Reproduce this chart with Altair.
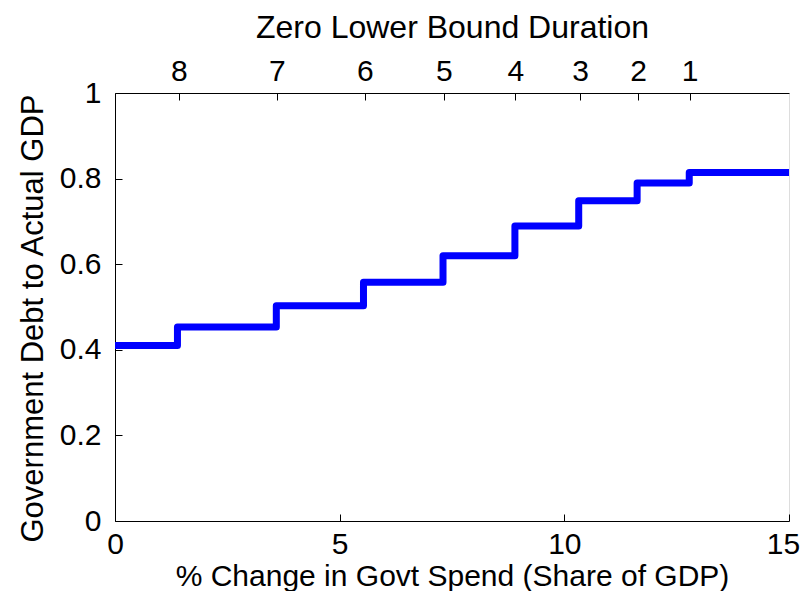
import altair as alt
import pandas as pd

# Step series: % change in govt spend (share of GDP) vs government debt / actual GDP
spend_change = [0.0, 1.39, 3.59, 5.53, 7.30, 8.90, 10.32, 11.62, 12.78, 15.0]
debt_ratio = [0.410, 0.453, 0.503, 0.558, 0.620, 0.689, 0.748, 0.790, 0.814, 0.814]

# Top axis: zero lower bound duration
zlb_positions = [1.42, 3.60, 5.56, 7.32, 8.91, 10.35, 11.64, 12.79]
zlb_labels = ["8", "7", "6", "5", "4", "3", "2", "1"]

x_ticks = [0, 5, 10, 15]
y_ticks = [0, 0.2, 0.4, 0.6, 0.8, 1.0]

df = pd.DataFrame({"x": spend_change, "y": debt_ratio})

FONT = "Liberation Sans"
FS = 30
W, H = 674, 428
TICK = 7

xscale = alt.Scale(domain=[0, 15], nice=False, zero=False)
yscale = alt.Scale(domain=[0, 1], nice=False, zero=False)

label_expr = "[" + ",".join("'%s'" % s for s in zlb_labels) + "][indexof([" + \
    ",".join(repr(v) for v in zlb_positions) + "], datum.value)]"

common_axis = dict(labelFont=FONT, titleFont=FONT, labelFontSize=FS,
                   labelColor="black", titleColor="black", tickColor="black",
                   domainColor="black", grid=False, labelFlush=False,
                   labelOverlap=False, labelBound=False, titleFontWeight="normal")

# Layer 1: the line, bottom axis ticks+labels, left axis ticks+labels (offset inward)
line = alt.Chart(df).mark_line(
    interpolate="step-after", color="#0000FF", strokeWidth=7,
    strokeCap="butt", strokeJoin="round"
).encode(
    x=alt.X("x:Q", scale=xscale, axis=alt.Axis(
        orient="bottom", values=x_ticks, format="d", domain=False,
        ticks=True, tickSize=TICK, offset=-TICK, labelPadding=1 + TICK,
        labelOffset={"condition": {"test": "datum.value === 15", "value": -6}, "value": 0},
        title="% Change in Govt Spend (Share of GDP)",
        titleBaseline="alphabetic", titleY=71,
        titleFontSize=30, **common_axis)),
    y=alt.Y("y:Q", scale=yscale, axis=alt.Axis(
        orient="left", values=y_ticks, format="~g", domain=False,
        ticks=True, tickSize=TICK, offset=-TICK, labelPadding=7 + TICK,
        title="Government Debt to Actual GDP", titlePadding=10, titleY=H / 2 + 11,
        titleFontSize=31, **common_axis)),
)

# Layer 2: bottom and left domain lines
frame_lb = alt.Chart(df).mark_point(opacity=0).encode(
    x=alt.X("x:Q", scale=xscale, axis=alt.Axis(
        orient="bottom", values=x_ticks, domain=True, ticks=False, labels=False,
        title=None, **common_axis)),
    y=alt.Y("y:Q", scale=yscale, axis=alt.Axis(
        orient="left", values=y_ticks, domain=True, ticks=False, labels=False,
        title=None, **common_axis)),
)

# Layer 3: top axis ticks + labels + title
top_ticks = alt.Chart(df).mark_point(opacity=0).encode(
    x=alt.X("x:Q", scale=xscale, axis=alt.Axis(
        orient="top", values=zlb_positions, labelExpr=label_expr, domain=False,
        ticks=True, tickSize=TICK, offset=-TICK, labelPadding=0 + TICK,
        title="Zero Lower Bound Duration", titlePadding=12,
        titleFontSize=32, **common_axis)),
    y=alt.Y("y:Q", scale=yscale, axis=None),
)

# Layer 4: top domain line
top_domain = alt.Chart(df).mark_point(opacity=0).encode(
    x=alt.X("x:Q", scale=xscale, axis=alt.Axis(
        orient="top", values=zlb_positions, domain=True, ticks=False, labels=False,
        title=None, **common_axis)),
    y=alt.Y("y:Q", scale=yscale, axis=None),
)

chart = alt.layer(line, frame_lb, top_ticks, top_domain).resolve_axis(
    x="independent", y="independent"
).properties(
    width=W, height=H,
    autosize=alt.AutoSizeParams(type="none"),
    padding={"left": 107, "top": 85, "right": 11, "bottom": 70},
).configure_view(stroke=None).configure(background="white")

chart.save("out.html", embed_options={"renderer": "svg", "actions": False})
